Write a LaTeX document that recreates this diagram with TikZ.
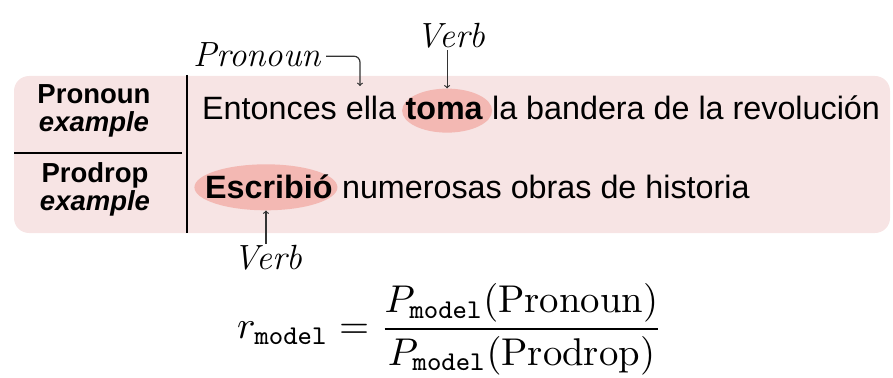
\documentclass[tikz,border=0pt]{standalone}
\usepackage{fontspec}
\newfontfamily\arialfont{Liberation Sans}
\usetikzlibrary{backgrounds,shapes.geometric}
\definecolor{boxpink}{HTML}{F7E4E4}
\definecolor{markpink}{HTML}{F3B8B3}
\definecolor{arrowgray}{HTML}{333333}
\begin{document}
\begin{tikzpicture}[x = 1pt, y = -1pt,
  sent/.style = {inner sep = 0, anchor = base west, font = \arialfont\fontsize{32.3}{38}\selectfont},
  rowlabel/.style = {inner sep = 0, align = center, font = \arialfont\bfseries\fontsize{27.5}{28}\selectfont},
  hand/.style = {inner sep = 0, font = \itshape\fontsize{35}{38}\selectfont},
  highlight/.style = {ellipse, fill = markpink, inner sep = 0},
  pointer/.style = {->, arrowgray, line width = 1.2pt}]
\useasboundingbox (0,0) rectangle (893,377);
% the two rows
\node[rowlabel] (prolabel) at (94,111) {Pronoun\\ \itshape example};
\node[rowlabel] (droplabel) at (95,189) {Prodrop\\ \itshape example};
\node[sent] (s1a) at (202,120) {Entonces ella};
\node[sent] (toma) at ([xshift = 9pt]s1a.base east) {\bfseries toma};
\node[sent] (s1b) at ([xshift = 9pt]toma.base east) {la bandera de la revoluci\'on};
\node[sent] (escr) at (205,198) {\bfseries Escribi\'o};
\node[sent] (s2b) at ([xshift = 9pt]escr.base east) {numerosas obras de historia};
\begin{scope}[on background layer]
\fill[boxpink, rounded corners = 15pt] (14,76) rectangle (890,233);
\node[highlight, minimum width = 90pt, minimum height = 44pt] (tomamark) at ([xshift = 3pt, yshift = -1pt]toma.center) {};
\node[highlight, minimum width = 143pt, minimum height = 46pt] (escrmark) at ([xshift = -3pt, yshift = -1pt]escr.center) {};
\end{scope}
\draw[line width = 2.5pt] (187,75) -- (187,233);
\draw[line width = 2pt] (14,153) -- (182,153);
% annotations
\node[hand, anchor = base west] (pronote) at (193,67) {Pronoun};
\node[hand, anchor = south] (verbtop) at ([yshift = 40pt, xshift = 4pt]tomamark.north) {Verb};
\node[hand, anchor = north] (verbbot) at ([yshift = -34pt, xshift = 2pt]escrmark.south) {Verb};
\coordinate (ellatip) at (360,86);
\draw[pointer, rounded corners = 6pt] ([xshift = 5pt, yshift = -1pt]pronote.east) -| (ellatip);
\draw[pointer] ([yshift = 38pt]tomamark.north) -- (tomamark.north);
\draw[pointer] ([yshift = -33pt]escrmark.south) -- (escrmark.south);
% the ratio
\node[scale = 3.87] (ratio) at (450,329)
  {$\displaystyle r_{\mathtt{model}} = \frac{P_{\mathtt{model}}(\mathrm{Pronoun})}{P_{\mathtt{model}}(\mathrm{Prodrop})}$};
\end{tikzpicture}
\end{document}
